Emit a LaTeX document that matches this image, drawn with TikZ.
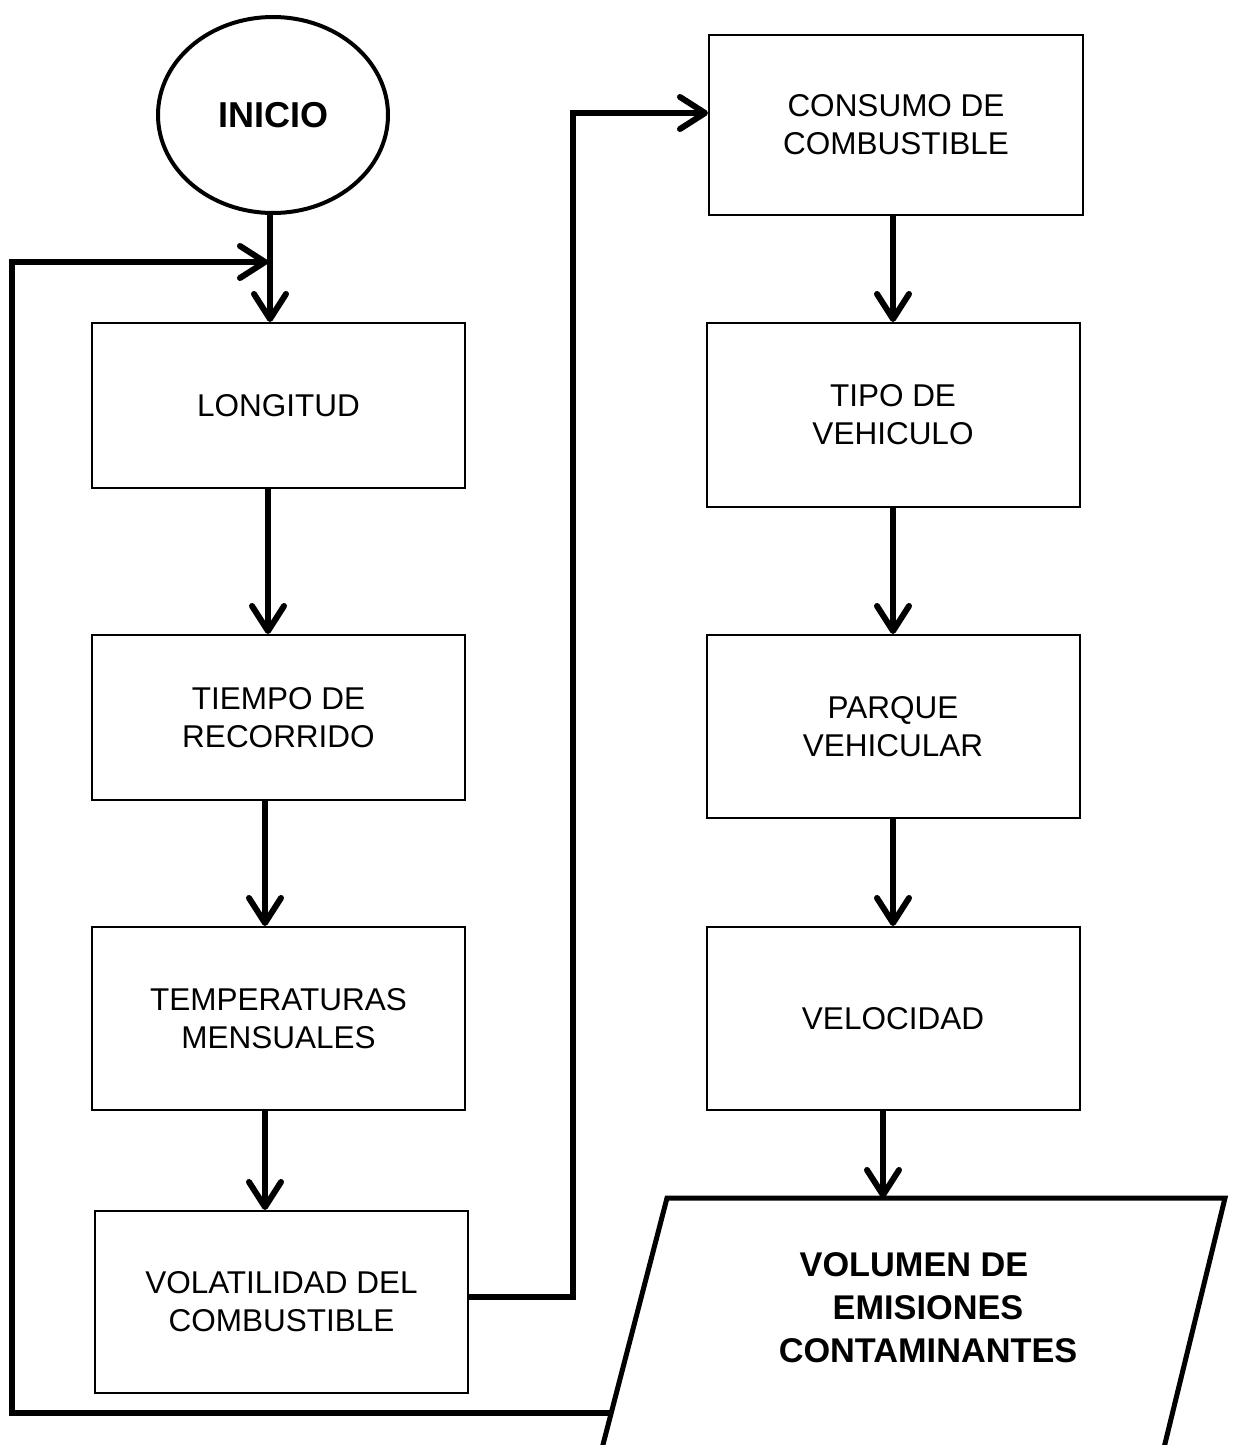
\documentclass[tikz,border=0pt]{standalone}
\usepackage{fontspec}
\setmainfont{Liberation Sans}
\usetikzlibrary{shapes.geometric,arrows.meta}
\begin{document}
\begin{tikzpicture}[x=1pt,y=-1pt,
 box/.style={draw,line width=2pt,minimum width=373pt,align=center,font=\fontsize{31.5}{38}\selectfont,inner sep=0pt},
 conn/.style={line width=6pt},
 arr/.style={conn,-{Straight Barb[length=25pt,width=32pt,round]}},
 boldtxt/.style={font=\fontsize{34.3}{43}\selectfont\bfseries,align=center}]
\useasboundingbox (0,0) rectangle (1233,1445);
% start
\node[draw,ellipse,line width=4pt,minimum width=230pt,minimum height=196pt,inner sep=0pt,font=\fontsize{36}{42}\selectfont\bfseries] (ini) at (273,115) {INICIO};
% left column
\node[box,minimum height=165pt] (lon) at (278.5,405.5) {LONGITUD};
\node[box,minimum height=165pt] (tie) at (278.5,717.5) {TIEMPO DE\\RECORRIDO};
\node[box,minimum height=183pt] (tem) at (278.5,1018.5) {TEMPERATURAS\\MENSUALES};
\node[box,minimum height=182pt] (vola) at (281.5,1302) {VOLATILIDAD DEL\\COMBUSTIBLE};
% right column
\node[box,minimum width=374pt,minimum height=180pt] (con) at (896,125) {CONSUMO DE\\COMBUSTIBLE};
\node[box,minimum height=184pt] (tipo) at (893,415) {TIPO DE\\VEHICULO};
\node[box,minimum height=183pt] (par) at (893,726.5) {PARQUE\\VEHICULAR};
\node[box,minimum height=183pt] (vel) at (893,1018.5) {VELOCIDAD};
% output parallelogram (cut by the page bottom)
\coordinate (pBL) at (599,1460);
\coordinate (pTL) at (667,1198);
\coordinate (pTR) at (1225,1198);
\coordinate (pBR) at (1161,1460);
\draw[line width=5pt] (pBL) -- (pTL) -- (pTR) -- (pBR);
\node[boldtxt] (out) at (928,1308) {VOLUMEN DE\hspace*{28pt}\\EMISIONES\\CONTAMINANTES};
\coordinate (ptop) at (883,1198);
\coordinate (lp) at (613,1413);
\coordinate (tgt) at (268,262);
% connectors
\draw[arr] ([xshift=-3pt]ini.south) -- ([xshift=-8.5pt]lon.north);
\draw[arr] ([xshift=-10.5pt]lon.south) -- ([xshift=-10.5pt]tie.north);
\draw[arr] ([xshift=-13.5pt]tie.south) -- ([xshift=-13.5pt]tem.north);
\draw[arr] ([xshift=-13.5pt]tem.south) -- ([xshift=-16.5pt]vola.north);
\draw[arr] ([yshift=5pt]vola.east) -- ++(104,0) |- ([yshift=12pt]con.west);
\draw[arr] ([xshift=-3pt]con.south) -- (tipo.north);
\draw[arr] (tipo.south) -- (par.north);
\draw[arr] (par.south) -- (vel.north);
\draw[arr] ([xshift=-10pt]vel.south) -- (ptop);
\draw[arr] (lp) -- (12,1413) -- (12,262) -- (tgt);
\end{tikzpicture}
\end{document}
